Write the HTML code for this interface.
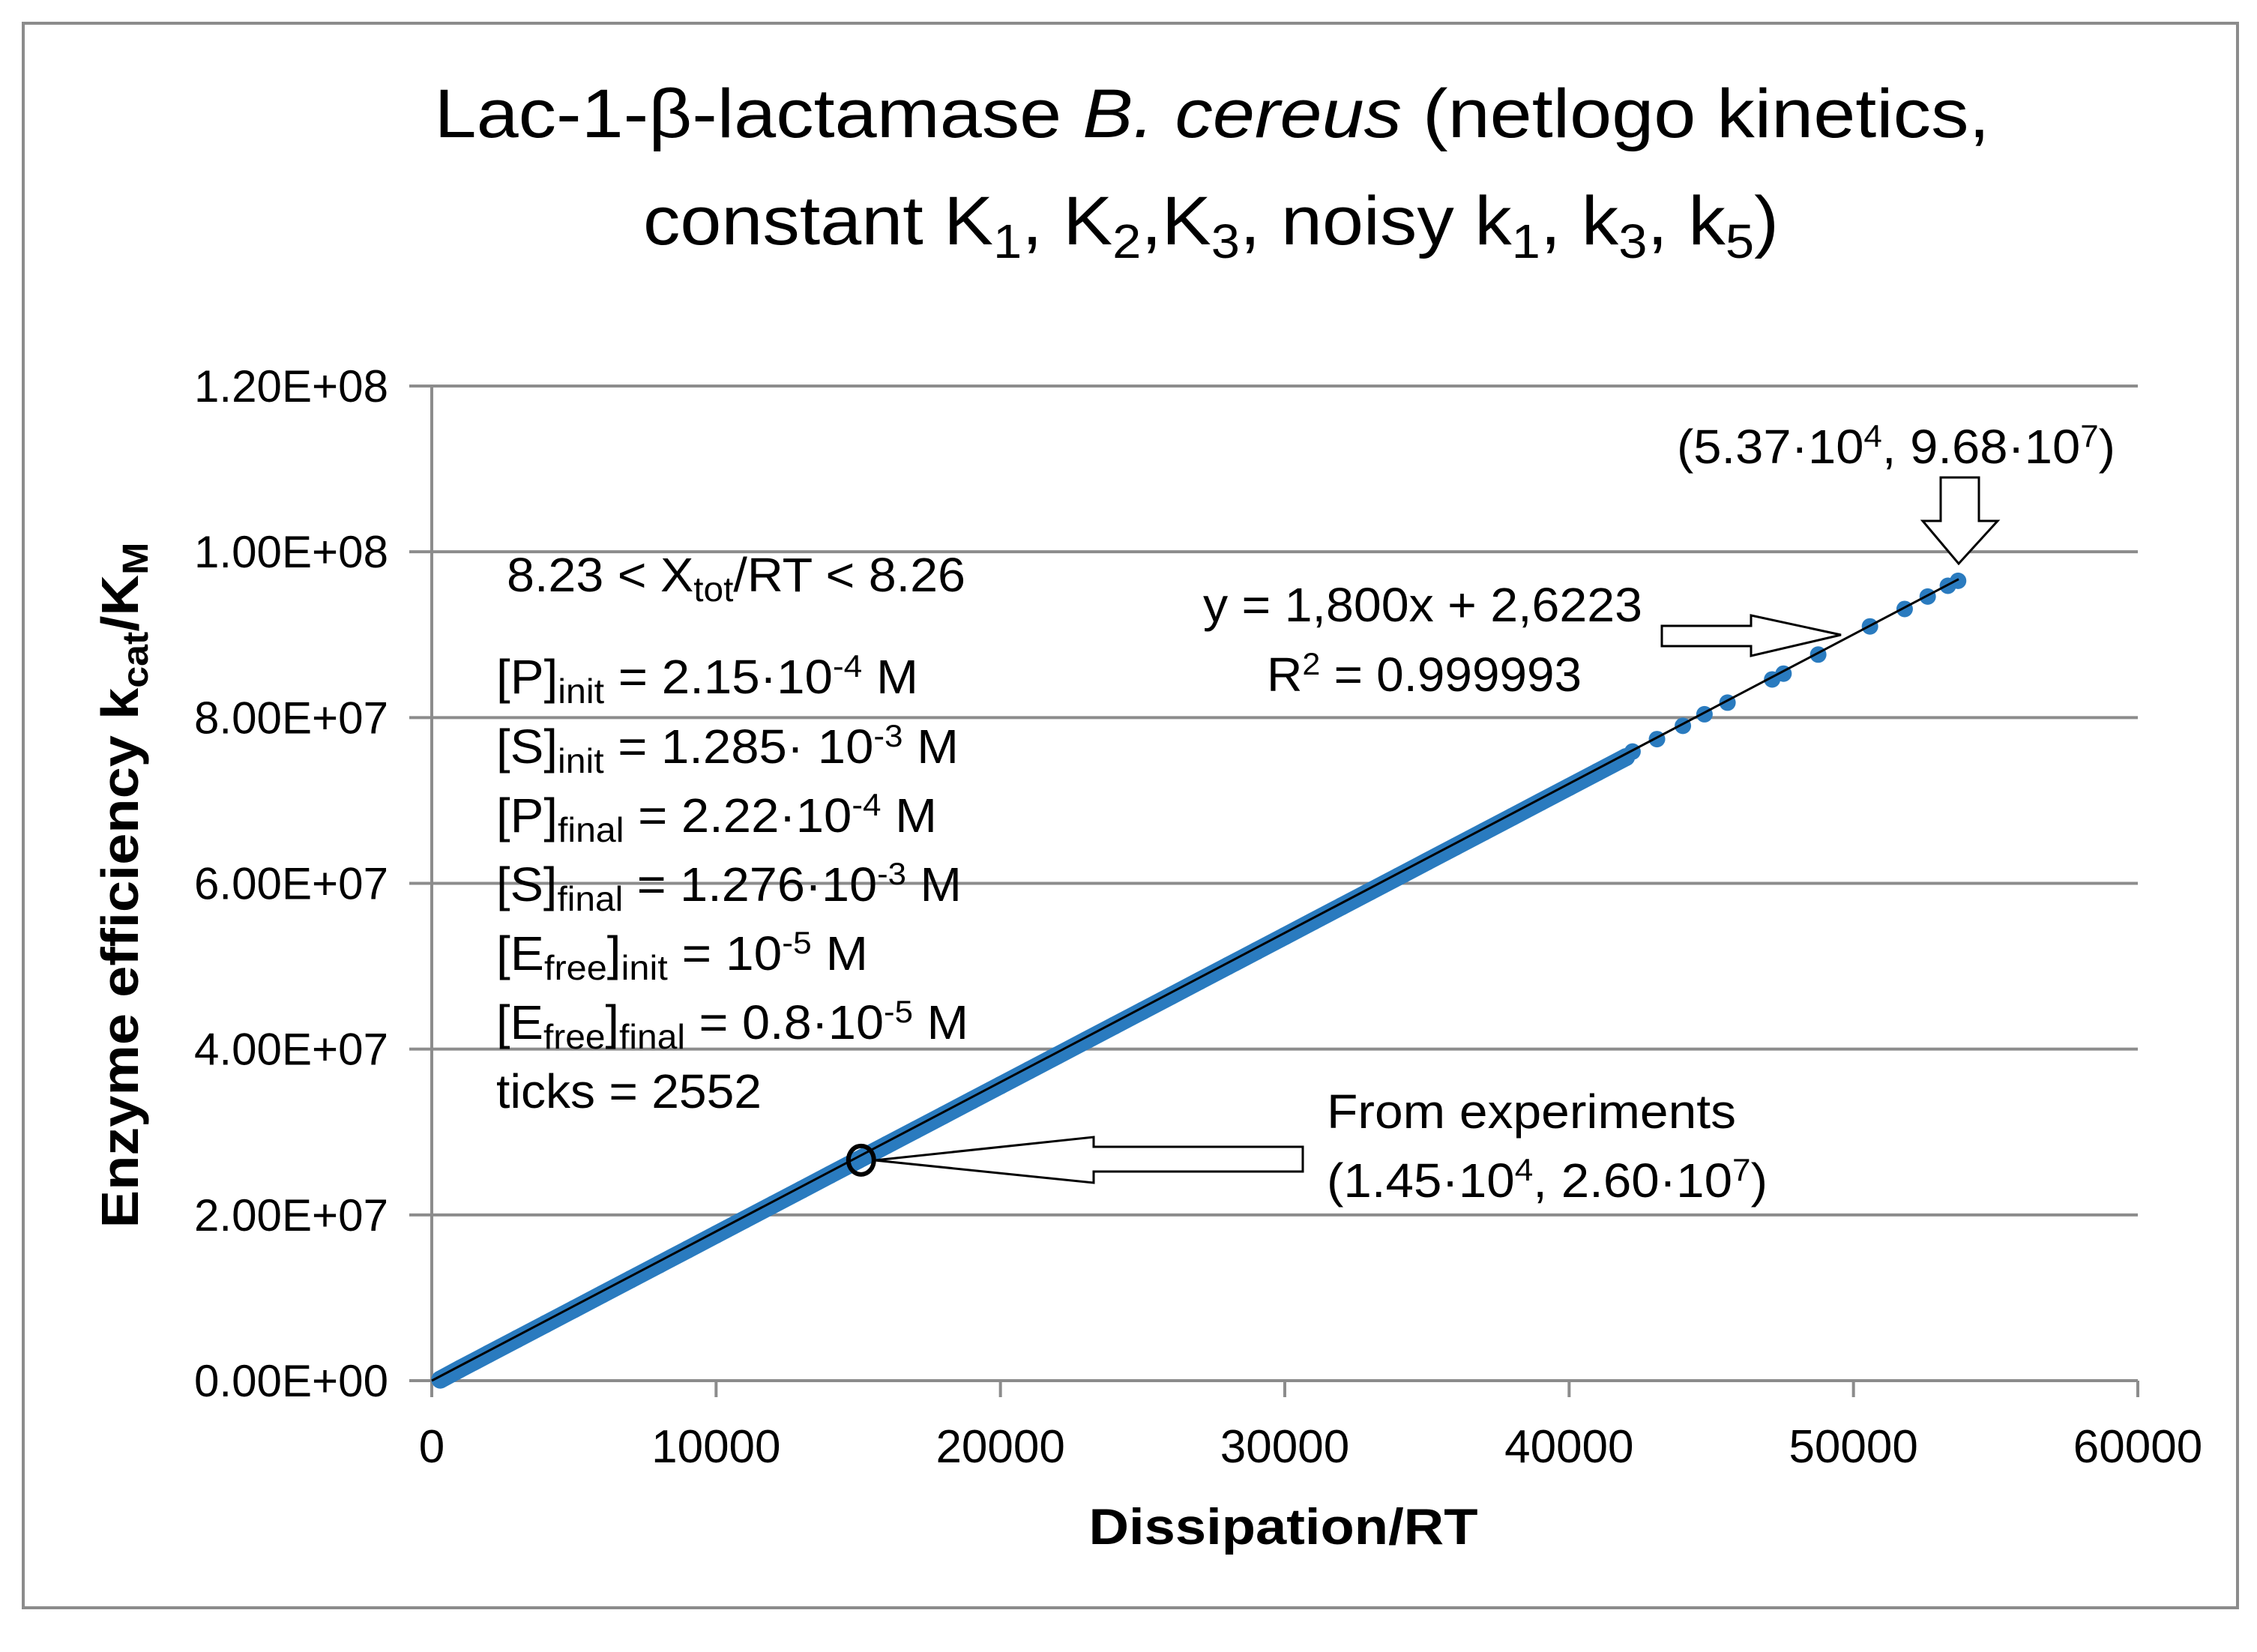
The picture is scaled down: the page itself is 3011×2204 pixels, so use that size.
<!DOCTYPE html>
<html><head><meta charset="utf-8"><style>
html,body{margin:0;padding:0;background:#fff}
svg{display:block}
text{font-family:"Liberation Sans",sans-serif;fill:#000}
</style></head><body>
<svg id="chart" width="3011" height="2204" viewBox="0 0 3011 2204" xmlns="http://www.w3.org/2000/svg">
<rect x="0" y="0" width="3011" height="2204" fill="#fff"/>
<rect x="31" y="31" width="2954" height="2114" fill="none" stroke="#8c8c8c" stroke-width="4"/>
<g font-size="92">
<text x="1617" y="183" text-anchor="middle" textLength="2075" lengthAdjust="spacingAndGlyphs">Lac-1-β-lactamase <tspan font-style="italic">B. cereus</tspan> (netlogo kinetics,</text>
<text x="858" y="326" textLength="1515" lengthAdjust="spacingAndGlyphs">constant K<tspan font-size="64" dy="18">1</tspan><tspan dy="-18">, K</tspan><tspan font-size="64" dy="18">2</tspan><tspan dy="-18">,K</tspan><tspan font-size="64" dy="18">3</tspan><tspan dy="-18">, noisy k</tspan><tspan font-size="64" dy="18">1</tspan><tspan dy="-18">, k</tspan><tspan font-size="64" dy="18">3</tspan><tspan dy="-18">, k</tspan><tspan font-size="64" dy="18">5</tspan><tspan dy="-18">)</tspan></text>
</g>
<g id="grid"></g>
<g id="axes"></g>
<g id="ticks"></g>
<g id="series"></g>
<text x="1712" y="2060" text-anchor="middle" font-size="68" font-weight="bold" textLength="519" lengthAdjust="spacingAndGlyphs">Dissipation/RT</text>
<text transform="translate(184,1181) rotate(-90)" text-anchor="middle" font-size="70" font-weight="bold" textLength="915" lengthAdjust="spacingAndGlyphs">Enzyme  efficiency  k<tspan font-size="48" dy="13">cat</tspan><tspan dy="-13">/K</tspan><tspan font-size="48" dy="13">M</tspan></text>
<g font-size="64">
<text x="676" y="789" textLength="612" lengthAdjust="spacingAndGlyphs">8.23 &lt; X<tspan font-size="46" dy="13">tot</tspan><tspan dy="-13">/RT &lt; 8.26</tspan></text>
<text x="662" y="925" textLength="563" lengthAdjust="spacingAndGlyphs">[P]<tspan font-size="46" dy="13">init</tspan><tspan dy="-13">  = 2.15·10</tspan><tspan font-size="42" dy="-22">-4</tspan><tspan dy="22"> M</tspan></text>
<text x="662" y="1018" textLength="617" lengthAdjust="spacingAndGlyphs">[S]<tspan font-size="46" dy="13">init</tspan><tspan dy="-13"> = 1.285· 10</tspan><tspan font-size="42" dy="-22">-3</tspan><tspan dy="22"> M</tspan></text>
<text x="662" y="1110" textLength="588" lengthAdjust="spacingAndGlyphs">[P]<tspan font-size="46" dy="13">final</tspan><tspan dy="-13">  = 2.22·10</tspan><tspan font-size="42" dy="-22">-4</tspan><tspan dy="22"> M</tspan></text>
<text x="662" y="1202" textLength="621" lengthAdjust="spacingAndGlyphs">[S]<tspan font-size="46" dy="13">final</tspan><tspan dy="-13"> = 1.276·10</tspan><tspan font-size="42" dy="-22">-3</tspan><tspan dy="22"> M</tspan></text>
<text x="662" y="1294" textLength="496" lengthAdjust="spacingAndGlyphs">[E<tspan font-size="46" dy="13">free</tspan><tspan dy="-13">]</tspan><tspan font-size="46" dy="13">init</tspan><tspan dy="-13">  = 10</tspan><tspan font-size="42" dy="-22">-5</tspan><tspan dy="22"> M</tspan></text>
<text x="662" y="1386" textLength="630" lengthAdjust="spacingAndGlyphs">[E<tspan font-size="46" dy="13">free</tspan><tspan dy="-13">]</tspan><tspan font-size="46" dy="13">final</tspan><tspan dy="-13">  = 0.8·10</tspan><tspan font-size="42" dy="-22">-5</tspan><tspan dy="22"> M</tspan></text>
<text x="662" y="1478" textLength="354" lengthAdjust="spacingAndGlyphs">ticks = 2552</text>
</g>
<g font-size="64">
<text x="1605" y="829" textLength="586" lengthAdjust="spacingAndGlyphs">y = 1,800x + 2,6223</text>
<text x="1690" y="922" textLength="420" lengthAdjust="spacingAndGlyphs">R<tspan font-size="42" dy="-22">2</tspan><tspan dy="22"> = 0.999993</tspan></text>
</g>
<text x="2237" y="618" font-size="64" textLength="585" lengthAdjust="spacingAndGlyphs">(5.37·10<tspan font-size="42" dy="-22">4</tspan><tspan dy="22">, 9.68·10</tspan><tspan font-size="42" dy="-22">7</tspan><tspan dy="22">)</tspan></text>
<g font-size="64">
<text x="1770" y="1505" textLength="546" lengthAdjust="spacingAndGlyphs">From experiments</text>
<text x="1770" y="1597" textLength="588" lengthAdjust="spacingAndGlyphs">(1.45·10<tspan font-size="42" dy="-22">4</tspan><tspan dy="22">, 2.60·10</tspan><tspan font-size="42" dy="-22">7</tspan><tspan dy="22">)</tspan></text>
</g>
<polygon points="2589,637 2640,637 2640,695 2665,695 2613,752 2565,695 2589,695" fill="#fff" stroke="#000" stroke-width="3"/>
<polygon points="2217,835 2336,835 2336,821 2456,847 2336,875 2336,862 2217,862" fill="#fff" stroke="#000" stroke-width="3"/>
<polygon points="1167,1548 1459,1517 1459,1530 1738,1530 1738,1563 1459,1563 1459,1578" fill="#fff" stroke="#000" stroke-width="3"/>
<g id="marker"></g>
</svg>
<script>
// data (x in Dissipation/RT, y in kcat/KM millions)
const yTicks = [0, 20, 40, 60, 80, 100, 120];
const yTickLabels = ["0.00E+00","2.00E+07","4.00E+07","6.00E+07","8.00E+07","1.00E+08","1.20E+08"];
const xTicks = [0, 10000, 20000, 30000, 40000, 50000, 60000];
const xTickLabels = ["0","10000","20000","30000","40000","50000","60000"];
const denseX = [300,1000,2000,3000,4000,5000,6000,7000,8000,9000,10000,11000,12000,13000,14000,15000,16000,17000,18000,19000,20000,21000,22000,23000,24000,25000,26000,27000,28000,29000,30000,31000,32000,33000,34000,35000,36000,37000,38000,39000,40000,41000,42000];
const denseY = [0.4,1.7,3.5,5.3,7.1,8.9,10.7,12.5,14.3,16.1,17.9,19.7,21.5,23.3,25.1,26.9,28.7,30.5,32.3,34.1,35.9,37.7,39.5,41.3,43.1,44.9,46.7,48.5,50.3,52.1,53.9,55.7,57.5,59.3,61.1,62.9,64.7,66.5,68.3,70.1,71.9,73.7,75.5];
const sparseX = [42230,43090,44000,44760,45570,47140,47540,48760,50580,51800,52610,53320,53680];
const sparseY = [75.9,77.4,79.0,80.4,81.8,84.6,85.3,87.6,91.0,93.1,94.6,95.9,96.5];
const fitLine = [[0,0],[53700,96.7]];
const experimentPoint = [15100, 26.6];

const NS = "http://www.w3.org/2000/svg";
const X0 = 576, X1 = 2852, Y0 = 1842, Y1 = 515;
const xS = v => X0 + (v - 0) / 60000 * (X1 - X0);
const yS = v => Y0 - (v - 0) / 120 * (Y0 - Y1);
function mk(tag, attrs, parent){ const e = document.createElementNS(NS, tag); for (const k in attrs) e.setAttribute(k, attrs[k]); parent.appendChild(e); return e; }

const grid = document.getElementById('grid'), axes = document.getElementById('axes'), ticks = document.getElementById('ticks'), series = document.getElementById('series');
yTicks.forEach((t, i) => {
  const y = yS(t);
  const g = mk('line', {x1: X0 - 30, x2: X1, y1: y, y2: y, stroke: '#8c8c8c', 'stroke-width': 4}, grid);
  
  
  const tx = mk('text', {x: 518, y: y + 21, 'text-anchor': 'end', 'font-size': 60, textLength: 259, lengthAdjust: 'spacingAndGlyphs'}, ticks);
  tx.textContent = yTickLabels[i];
  
  
});
const ya = mk('line', {x1: X0, x2: X0, y1: Y1, y2: Y0, stroke: '#8c8c8c', 'stroke-width': 4}, axes);


xTicks.forEach((t, i) => {
  const x = xS(t);
  const tk = mk('line', {x1: x, x2: x, y1: Y0, y2: Y0 + 22, stroke: '#8c8c8c', 'stroke-width': 4}, axes);
  
  
  const tx = mk('text', {x: x, y: 1951, 'text-anchor': 'middle', 'font-size': 62}, ticks);
  tx.textContent = xTickLabels[i];
  
  
});
const band = mk('polyline', {points: denseX.map((x, i) => xS(x) + ',' + (yS(denseY[i]) + 3)).join(' '), fill: 'none', stroke: '#2a7bbf', 'stroke-width': 24, 'stroke-linecap': 'round'}, series);


denseX.forEach((x, i) => {
  const c = mk('circle', {cx: xS(x), cy: yS(denseY[i]) + 3, r: 12, fill: '#2a7bbf'}, series);
  
  
});
sparseX.forEach((x, i) => {
  const c = mk('circle', {cx: xS(x), cy: yS(sparseY[i]), r: 11, fill: '#2a7bbf'}, series);
  
  
});
const fl = mk('line', {x1: xS(fitLine[0][0]), y1: yS(fitLine[0][1]), x2: xS(fitLine[1][0]), y2: yS(fitLine[1][1]), stroke: '#000', 'stroke-width': 3}, series);


const mc = mk('ellipse', {cx: xS(experimentPoint[0]), cy: yS(experimentPoint[1]), rx: 17, ry: 19, fill: 'none', stroke: '#000', 'stroke-width': 6}, document.getElementById('marker'));


</script>
</body></html>
